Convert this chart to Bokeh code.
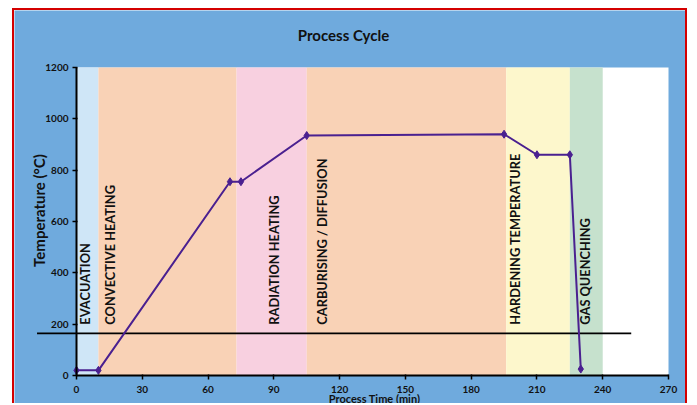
import math
from bokeh.plotting import figure
from bokeh.models import Label, Range1d, FixedTicker, ColumnDataSource
from bokeh.core.properties import value
from bokeh.embed import file_html
from bokeh.resources import INLINE

# ---- data ----
time_min = [0, 10, 70, 75, 105, 195, 210, 225, 230]
temp_c = [20, 20, 755, 755, 935, 940, 860, 860, 25]

phase_names = ["EVACUATION", "CONVECTIVE HEATING", "RADIATION HEATING",
               "CARBURISING / DIFFUSION", "HARDENING TEMPERATURE", "GAS QUENCHING"]
phase_start = [0, 10, 73, 105, 196, 225]
phase_end = [10, 73, 105, 196, 225, 240]
phase_colors = ["#cfe6f7", "#f9d2b6", "#f8d0e0", "#f9d2b6", "#fdf7cc", "#c6e1cd"]
phase_label_x = [4, 15.5, 90, 112, 200, 232]
phase_label_temp = [198, 198, 198, 198, 198, 198]

x_ticks = [0, 30, 60, 90, 120, 150, 180, 210, 240, 270]
y_ticks = [0, 200, 400, 600, 800, 1000, 1200]
x_limits = [0, 270]
y_limits = [0, 1200]

ref_line_temp = 164
ref_line_from = -18
ref_line_to = 253

BLUE = "#6faadd"
FONT = "Lato"
INK = "#111111"

W, H = 675, 395
# plot-area placement inside the canvas (pixels)
FL, FR, FT, FB = 62, 654, 57, 365
sx = (FR - FL) / (x_limits[1] - x_limits[0])
sy = (FB - FT) / (y_limits[1] - y_limits[0])
xr = Range1d(x_limits[0] - FL / sx, x_limits[1] + (W - FR) / sx)
yr = Range1d(y_limits[0] - (H - FB) / sy, y_limits[1] + FT / sy)

p = figure(width=W, height=H, x_range=xr, y_range=yr,
           toolbar_location=None, output_backend="svg",
           min_border=0, background_fill_color=BLUE, border_fill_color=BLUE,
           outline_line_color=None)
p.styles = {"border-top": "2px solid #d40000", "border-left": "2px solid #d40000",
            "border-right": "2px solid #d40000", "margin-left": "12px", "margin-top": "8px"}
p.xgrid.visible = False
p.ygrid.visible = False

# white plotting area
p.quad(left=x_limits[0], right=x_limits[1], bottom=y_limits[0], top=y_limits[1],
       color="white", line_color=None)

bands = ColumnDataSource(dict(left=phase_start, right=phase_end, color=phase_colors))
p.quad(left="left", right="right", bottom=y_limits[0], top=y_limits[1], color="color",
       source=bands, line_color=None)

labels = ColumnDataSource(dict(x=phase_label_x, y=phase_label_temp, t=phase_names))
p.text(x="x", y="y", text="t", source=labels, angle=math.pi / 2, text_align="left",
       text_baseline="middle", text_font=value(FONT), text_font_style="bold",
       text_font_size="12.8px", text_color=INK)

p.segment(x0=ref_line_from, y0=ref_line_temp, x1=ref_line_to, y1=ref_line_temp,
          line_color="black", line_width=1.6)

p.line(time_min, temp_c, line_color="#4a2090", line_width=2)
p.scatter(time_min, temp_c, marker="diamond", size=8, color="#4a2090")

for ax in (p.xaxis[0], p.yaxis[0]):
    ax.fixed_location = 0
    ax.axis_line_color = "black"
    ax.axis_line_width = 2
    ax.major_tick_line_color = "black"
    ax.major_tick_line_width = 1.5
    ax.major_tick_out = 4
    ax.major_tick_in = 1
    ax.minor_tick_line_color = None
    ax.major_label_text_font = FONT
    ax.major_label_text_font_style = "bold"
    ax.major_label_text_font_size = "10px"
    ax.major_label_text_color = INK

p.xaxis.bounds = tuple(x_limits)
p.yaxis.bounds = tuple(y_limits)
p.xaxis.ticker = FixedTicker(ticks=x_ticks)
p.yaxis.ticker = FixedTicker(ticks=y_ticks)
p.xaxis.major_label_standoff = 6
p.yaxis.major_label_standoff = 4

# screen positions: origin at the canvas' bottom-left (frame fills the canvas)
p.add_layout(Label(x=329, y=371, x_units="screen", y_units="screen", text="Process Cycle",
                   text_align="center", text_baseline="middle", text_font=FONT,
                   text_font_style="bold", text_font_size="15px", text_color=INK))
p.add_layout(Label(x=24, y=195, x_units="screen", y_units="screen", text="Temperature (°C)",
                   angle=math.pi / 2, text_align="center", text_baseline="middle",
                   text_font=FONT, text_font_style="bold", text_font_size="15px",
                   text_color=INK))
p.add_layout(Label(x=360, y=1, x_units="screen", y_units="screen", text="Process Time (min)",
                   text_align="center", text_baseline="bottom", text_font=FONT,
                   text_font_style="bold", text_font_size="11px", text_color=INK))

open("out.html", "w").write(file_html(p, INLINE))
